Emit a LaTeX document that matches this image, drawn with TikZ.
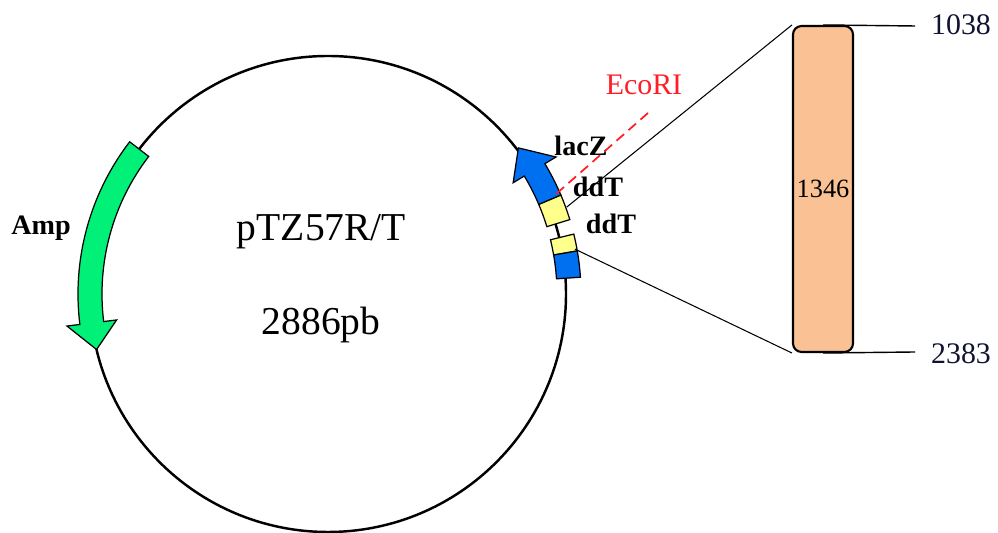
\documentclass[tikz,border=0pt]{standalone}
\usepackage{fontspec}
\setmainfont{Liberation Serif}
\definecolor{ampgreen}{RGB}{0,240,120}
\definecolor{lacblue}{RGB}{0,112,240}
\definecolor{ddtyellow}{RGB}{255,255,140}
\definecolor{insertpeach}{RGB}{250,194,148}
\definecolor{posnavy}{RGB}{15,18,50}
\definecolor{ecored}{RGB}{255,30,40}
\begin{document}
\begin{tikzpicture}[x=0.02cm,y=0.02cm,
  gene/.style={draw=black,line width=0.7pt,line join=miter},
  featlabel/.style={font=\fontsize{16}{18}\selectfont\bfseries,inner sep=0pt},
  title/.style={font=\fontsize{22.5}{26}\selectfont,inner sep=0pt},
  poslabel/.style={font=\fontsize{17}{20}\selectfont,text=posnavy,inner sep=0pt},
  insertbar/.style={draw=black,line width=1.2pt,fill=insertpeach,rounded corners=0.17cm,
    minimum width=1.2cm,minimum height=6.52cm,inner sep=0pt,
    font=\fontsize{15}{18}\selectfont},
  link/.style={draw=black,line width=0.6pt}]
\useasboundingbox (0,0) rectangle (998,533);

% plasmid backbone
\draw[line width=1.4pt] (328,239) circle[radius=238];

\begin{scope}[shift={(328,239)}]
  % Amp resistance gene (clockwise arrow)
  \fill[ampgreen,gene] (142.5:226) arc[start angle=142.5,end angle=187,radius=226]
    -- (187:213) -- (193.5:238) -- (187:263) -- (187:250)
    arc[start angle=187,end angle=142.5,radius=250] -- cycle;
  % lacZ fragment (counter-clockwise arrow)
  \fill[lacblue,gene] (23:229) arc[start angle=23,end angle=31,radius=229]
    -- (31:216) -- (37.5:240) -- (31:266) -- (31:253)
    arc[start angle=31,end angle=23,radius=253] -- cycle;
  % ddT overhangs and the second lacZ part
  \fill[ddtyellow,gene] (17.1:229) arc[start angle=17.1,end angle=23,radius=229]
    -- (23:253) arc[start angle=23,end angle=17.1,radius=253] -- cycle;
  \fill[ddtyellow,gene] (9.8:229) arc[start angle=9.8,end angle=13.7,radius=229]
    -- (13.7:253) arc[start angle=13.7,end angle=9.8,radius=253] -- cycle;
  \fill[lacblue,gene] (3.8:229) arc[start angle=3.8,end angle=9.8,radius=229]
    -- (9.8:253) arc[start angle=9.8,end angle=3.8,radius=253] -- cycle;
  % insert borders
  \coordinate (cutA) at (20:254);
  \coordinate (cutB) at (10.3:251);
\end{scope}

% labels on the plasmid
\node[title,anchor=base] (name) at (321.5,292) {pTZ57R/T};
\node[title,anchor=base] (size) at (321,198) {2886pb};
\node[featlabel] (amp) at (41,305) {Amp};
\node[featlabel] (lacz) at (581,387) {lacZ};
\node[featlabel] (ddt1) at (598,346) {ddT};
\node[featlabel] (ddt2) at (611,309) {ddT};

% EcoRI site
\node[font=\fontsize{17}{20}\selectfont,text=ecored,inner sep=0pt] (ecori) at (644,448) {EcoRI};
\coordinate (ecoA) at (648,420);
\coordinate (ecoB) at (555,338);
\draw[ecored,line width=1pt,dash pattern=on 0.2cm off 0.12cm] (ecoA) -- (ecoB);

% cloned insert
\node[insertbar] (bar) at (823,344) {1346};
\draw[link] (cutA) -- (bar.north west);
\draw[link] (cutB) -- (bar.south west);
\coordinate (topend) at (915,507);
\coordinate (botend) at (915,181);
\draw[link,line width=0.8pt] (bar.north) -- (topend);
\draw[link,line width=0.8pt] (bar.south) -- (botend);
\node[poslabel] (start) at (961,508) {1038};
\node[poslabel] (stop) at (961,179) {2383};
\end{tikzpicture}
\end{document}
